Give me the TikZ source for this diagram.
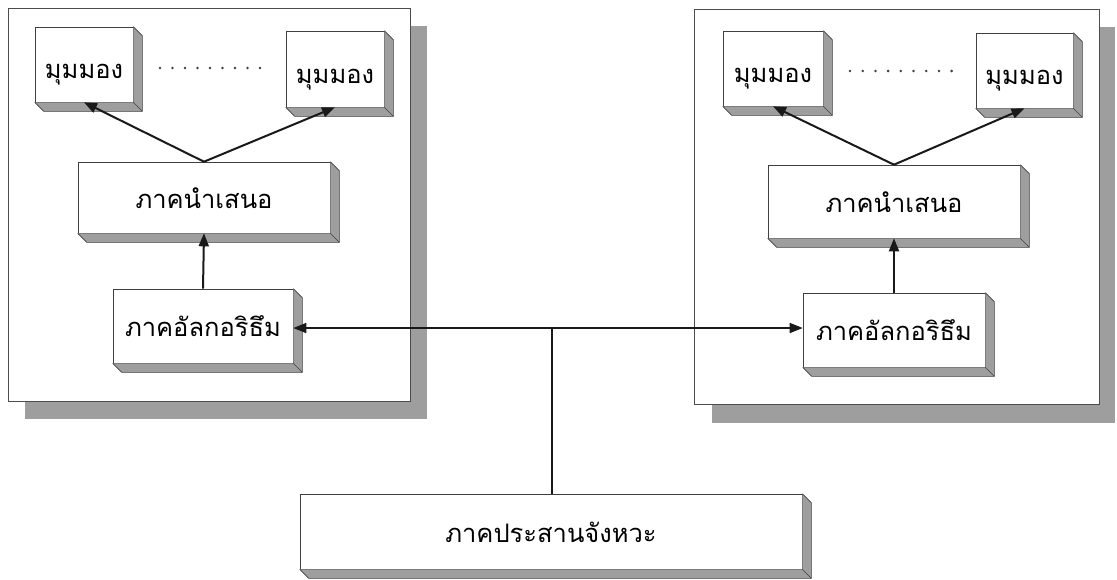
\documentclass[tikz,border=0pt]{standalone}
\usepackage{fontspec}
\newfontfamily\thaifont[Script=Thai]{Loma}
\usetikzlibrary{arrows.meta,calc}
\tikzset{
  shadefill/.style={fill=black!38},
  panelbox/.style={draw=black!70,line width=0.6pt,fill=white,inner sep=0pt},
  solidbox/.style={draw=black!75,line width=0.6pt,fill=white,inner sep=0pt,text height=14pt,text depth=4pt,font=\thaifont\fontsize{25.5}{28}\selectfont},
  edgeline/.style={draw=black!75,line width=0.6pt},
  conn/.style={draw=black!90,line width=2pt,-{Triangle[length=13pt,width=10pt]}},
  hconn/.style={draw=black!90,line width=1.6pt,-{Triangle[length=13pt,width=10pt]}},
  dotmark/.style={fill=black!75}
}
% \tdbox{name}{x1}{y1}{x2}{y2}{text}
\newcommand{\tdbox}[6]{%
  \node[solidbox,minimum width={#4pt-#2pt},minimum height={#5pt-#3pt}] (#1) at ({(#2+#4)/2},{(#3+#5)/2}) {\raisebox{-5.5pt}{#6}};
  \fill[shadefill] (#1.north east) -- ++(9,9) -- ($(#1.south east)+(9,9)$) -- ($(#1.south west)+(9,9)$) -- (#1.south west) -- (#1.south east) -- cycle;
  \draw[edgeline] (#1.north east) -- ++(9,9) -- ($(#1.south east)+(9,9)$) -- ($(#1.south west)+(9,9)$) -- (#1.south west);
  \draw[edgeline] (#1.south east) -- ++(9,9);
}
\begin{document}
\begin{tikzpicture}[x=1pt,y=-1pt]
\useasboundingbox (0,0) rectangle (1117,579);
% panels with shadows
\fill[shadefill] (25,26) rectangle (427,419);
\node[panelbox,minimum width=402pt,minimum height=393pt] (leftpanel) at (209,204.5) {};
\fill[shadefill] (712,27) rectangle (1115,423);
\node[panelbox,minimum width=405pt,minimum height=395pt] (rightpanel) at (896.5,206.5) {};
% left panel boxes
\tdbox{L1}{35}{27}{133}{102}{\raisebox{-3.5pt}{มุมมอง}}
\tdbox{L2}{286}{31}{384}{107}{\raisebox{-3.5pt}{มุมมอง}}
\tdbox{LP}{78}{162}{330}{233}{ภาคนำเสนอ}
\tdbox{LA}{113}{289}{293}{363}{ภาคอัลกอริธึม}
% right panel boxes
\tdbox{R1}{723}{31}{823}{106}{\raisebox{-3.5pt}{มุมมอง}}
\tdbox{R2}{976}{33}{1073}{108}{\raisebox{-3.5pt}{มุมมอง}}
\tdbox{RP}{768}{165}{1020}{238}{ภาคนำเสนอ}
\tdbox{RA}{803}{293}{985}{367}{ภาคอัลกอริธึม}
% bottom box
\tdbox{B}{300}{494}{802}{569}{ภาคประสานจังหวะ}
% dots
\foreach \i in {0,...,8} {
  \fill[dotmark] (160+12.5*\i,68) circle (1.4);
  \fill[dotmark] (850+12.7*\i,71) circle (1.4);
}
% connectors
\draw[conn] (LP.north) -- (L1.south);
\draw[conn] (LP.north) -- (L2.south);
\draw[conn] (LA.north) -- (LP.south);
\draw[conn] (RP.north) -- (R1.south);
\draw[conn] (RP.north) -- (R2.south);
\draw[conn] (RA.north) -- (RP.south);
\coordinate (J) at (552,328);
\draw[hconn] (J) -- (J -| LA.east);
\draw[hconn] (J) -- (J -| RA.west);
\draw[draw=black!90,line width=1.6pt] (J) -- (J |- B.north);
\end{tikzpicture}
\end{document}
